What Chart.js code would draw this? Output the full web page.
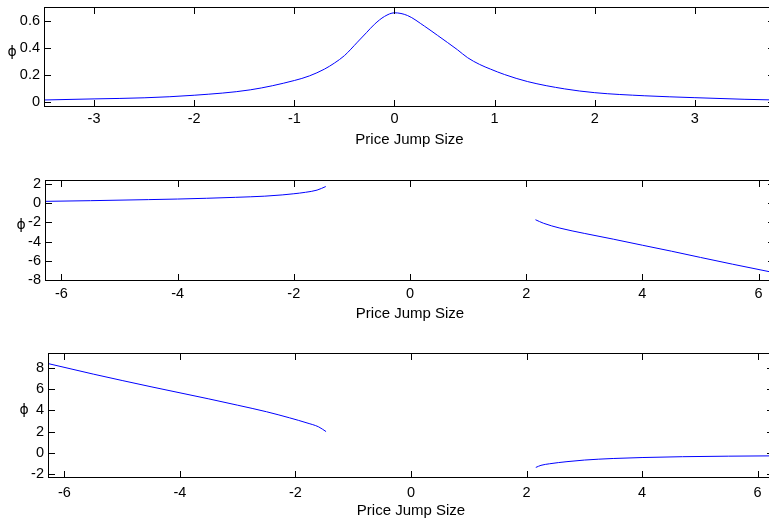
<!DOCTYPE html>
<html>
<head>
<meta charset="utf-8">
<script src="https://cdn.jsdelivr.net/npm/chart.js@4/dist/chart.umd.min.js"></script>
<style>
  html, body { margin: 0; padding: 0; background: #fff; overflow: hidden; width: 769px; height: 521px; }
  canvas { position: absolute; left: 0; top: 0; }
</style>
</head>
<body>
<canvas id="topChart" width="800" height="521"></canvas>
<canvas id="midChart" width="800" height="521"></canvas>
<canvas id="botChart" width="800" height="521"></canvas>
<script>
// top panel: density over jump size
const topX = [-3.5, -3.0, -2.5, -2.0, -1.44, -1.0, -0.85, -0.7, -0.6, -0.5, -0.37, -0.28, -0.2, -0.1, 0, 0.13, 0.3, 0.43, 0.53, 0.63, 0.73, 0.85, 0.96, 1.1, 1.33, 1.7, 2.0, 2.5, 3.0, 3.5, 3.8];
const topY = [0.012, 0.02, 0.028, 0.047, 0.087, 0.156, 0.19, 0.24, 0.285, 0.34, 0.44, 0.51, 0.572, 0.63, 0.657, 0.637, 0.558, 0.49, 0.437, 0.383, 0.325, 0.275, 0.24, 0.2, 0.148, 0.094, 0.066, 0.043, 0.029, 0.017, 0.012];
const topXTicks = [-3, -2, -1, 0, 1, 2, 3];
const topYTicks = [0, 0.2, 0.4, 0.6];

// middle panel: two branches
const midLeftX = [-6.283, -5.5, -4.5, -4.0, -3.5, -3.0, -2.5, -2.2, -2.0, -1.8, -1.6, -1.45];
const midLeftY = [0.18, 0.25, 0.36, 0.42, 0.5, 0.6, 0.72, 0.85, 0.97, 1.12, 1.35, 1.72];
const midRightX = [2.16, 2.3, 2.58, 3.0, 3.5, 4.0, 4.5, 5.0, 5.55, 6.283];
const midRightY = [-1.73, -2.1, -2.6, -3.15, -3.75, -4.38, -5.0, -5.65, -6.35, -7.25];
const midXTicks = [-6, -4, -2, 0, 2, 4, 6];
const midYTicks = [-8, -6, -4, -2, 0, 2];

// bottom panel: two branches
const botLeftX = [-6.283, -5.5, -4.5, -3.5, -3.0, -2.5, -2.1, -1.8, -1.6, -1.47];
const botLeftY = [8.45, 7.45, 6.25, 5.1, 4.5, 3.88, 3.3, 2.82, 2.45, 2.0];
const botRightX = [2.16, 2.25, 2.4, 2.7, 3.0, 3.5, 4.0, 4.7, 5.5, 6.283];
const botRightY = [-1.4, -1.2, -1.05, -0.85, -0.7, -0.55, -0.46, -0.38, -0.33, -0.3];
const botXTicks = [-6, -4, -2, 0, 2, 4, 6];
const botYTicks = [-2, 0, 2, 4, 6, 8];

const FONT = '"Liberation Sans", Arial, sans-serif';
const W = 800, H = 521, X_AXIS_H = 42, TICK_LEN = 7;

// matlab style box with inward ticks on all four sides
const boxTicks = {
  id: 'boxTicks',
  afterDraw(chart, args, opts) {
    const { ctx, chartArea: a, scales: { x, y } } = chart;
    ctx.save();
    ctx.strokeStyle = '#000';
    ctx.lineWidth = 1;
    ctx.beginPath();
    x.ticks.forEach(t => {
      const px = Math.round(x.getPixelForValue(t.value)) + 0.5;
      ctx.moveTo(px, a.bottom); ctx.lineTo(px, a.bottom - TICK_LEN);
      ctx.moveTo(px, a.top); ctx.lineTo(px, a.top + TICK_LEN);
    });
    y.ticks.forEach(t => {
      const py = Math.round(y.getPixelForValue(t.value)) + 0.5;
      ctx.moveTo(a.left, py); ctx.lineTo(a.left + TICK_LEN, py);
      ctx.moveTo(a.right, py); ctx.lineTo(a.right - TICK_LEN, py);
    });
    ctx.stroke();
    ctx.strokeRect(a.left + 0.5, a.top + 0.5, a.width - 1, a.height - 1);
    ctx.fillStyle = '#000';
    ctx.font = '14px "DejaVu Sans", sans-serif';
    ctx.textAlign = 'center';
    ctx.textBaseline = 'middle';
    ctx.fillText('\u03D5', a.left - opts.labelGap, (a.top + a.bottom) / 2 - 5);
    ctx.restore();
  }
};

function makeChart(id, p) {
  new Chart(document.getElementById(id), {
    type: 'line',
    data: {
      datasets: p.segments.map(([xs, ys]) => ({
        data: xs.map((v, i) => ({ x: v, y: ys[i] })),
        borderColor: '#0000ff',
        borderWidth: 1,
        pointRadius: 0,
        fill: false,
        cubicInterpolationMode: 'monotone'
      }))
    },
    options: {
      responsive: false,
      animation: false,
      events: [],
      layout: {
        padding: { left: 0, top: p.area.top, right: W - p.area.right, bottom: H - p.area.bottom - X_AXIS_H }
      },
      plugins: {
        legend: { display: false },
        tooltip: { enabled: false },
        boxTicks: { labelGap: p.labelGap }
      },
      scales: {
        x: {
          type: 'linear',
          min: p.xMin,
          max: p.xMax,
          afterBuildTicks: s => { s.ticks = p.xTicks.map(v => ({ value: v })); },
          afterFit: s => { s.height = X_AXIS_H; s.paddingLeft = 0; s.paddingRight = 0; },
          grid: { display: false, drawTicks: false },
          border: { display: false },
          ticks: {
            color: '#000', font: { family: FONT, size: 14.5 }, padding: p.tickPad,
            maxRotation: 0, autoSkip: false, callback: v => String(v)
          },
          title: {
            display: true, text: 'Price Jump Size', color: '#000',
            font: { family: FONT, size: 15 }, padding: 0
          }
        },
        y: {
          type: 'linear',
          min: p.yMin,
          max: p.yMax,
          afterBuildTicks: s => { s.ticks = p.yTicks.map(v => ({ value: v })); },
          afterFit: s => { s.width = p.area.left; s.paddingTop = 0; s.paddingBottom = 0; },
          grid: { display: false, drawTicks: false },
          border: { display: false },
          ticks: {
            color: '#000', font: { family: FONT, size: 14.5 }, padding: 4,
            autoSkip: false, callback: v => String(v)
          }
        }
      }
    },
    plugins: [boxTicks]
  });
}

makeChart('topChart', {
  area: { left: 44, top: 7, right: 775, bottom: 107 },
  xMin: -3.5, xMax: 3.8, yMin: -0.04, yMax: 0.7,
  xTicks: topXTicks, yTicks: topYTicks,
  segments: [[topX, topY]],
  tickPad: 3.5, labelGap: 32
});

makeChart('midChart', {
  area: { left: 45, top: 180, right: 775, bottom: 281 },
  xMin: -2 * Math.PI, xMax: 2 * Math.PI, yMin: -8.1, yMax: 2.4,
  xTicks: midXTicks, yTicks: midYTicks,
  segments: [[midLeftX, midLeftY], [midRightX, midRightY]],
  tickPad: 4.5, labelGap: 24
});

makeChart('botChart', {
  area: { left: 48, top: 353, right: 774, bottom: 478 },
  xMin: -2 * Math.PI, xMax: 2 * Math.PI, yMin: -2.4, yMax: 9.45,
  xTicks: botXTicks, yTicks: botYTicks,
  segments: [[botLeftX, botLeftY], [botRightX, botRightY]],
  tickPad: 6, labelGap: 24
});
</script>
</body>
</html>
